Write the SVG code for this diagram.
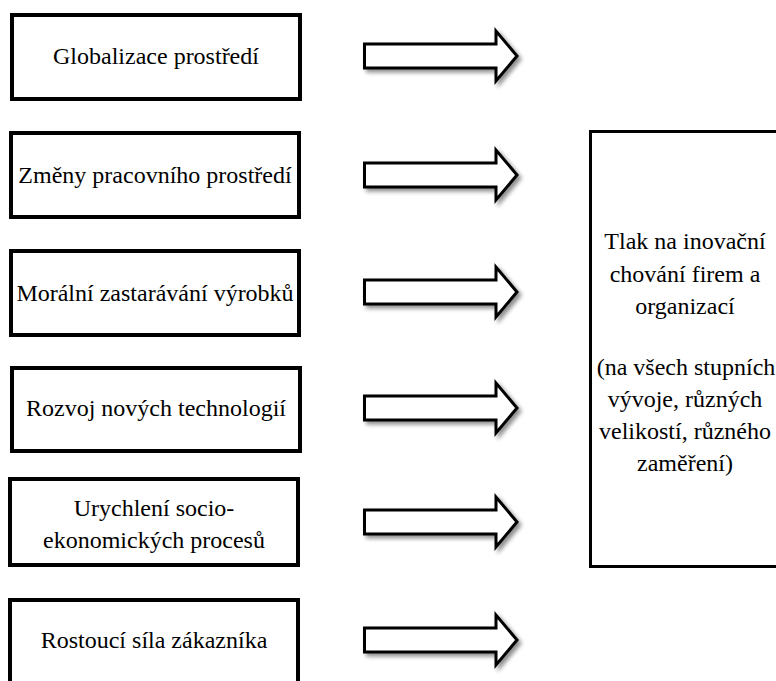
<svg xmlns="http://www.w3.org/2000/svg" width="776" height="681" viewBox="0 0 776 681">
  <style>
    .box { fill: #ffffff; stroke: #000000; stroke-width: 4; }
    .big { fill: #ffffff; stroke: #000000; stroke-width: 3; }
    .lbl { font-family: "Liberation Serif", "Times New Roman", Tinos, "Noto Serif", "DejaVu Serif", serif; font-size: 24px; fill: #000000; text-anchor: middle; }
    .arrow { fill: #ffffff; stroke: #000000; stroke-width: 3; stroke-linejoin: miter; filter: url(#shadow); }
  </style>
  <defs>
    <filter id="shadow" x="-10%" y="-30%" width="130%" height="170%">
      <feGaussianBlur in="SourceAlpha" stdDeviation="2"/>
      <feOffset dx="3" dy="3" result="b"/>
      <feComponentTransfer><feFuncA type="linear" slope="0.45"/></feComponentTransfer>
      <feMerge><feMergeNode/><feMergeNode in="SourceGraphic"/></feMerge>
    </filter>
    <path id="blockArrow" d="M0,-12 H131.5 V-25 L152.5,0 L131.5,25 V12 H0 Z"/>
  </defs>
  <rect width="776" height="681" fill="#ffffff"/>

  <g id="n1">
    <rect class="box" x="12" y="15" width="288" height="84"/>
    <text class="lbl" x="156" y="64">Globalizace prostředí</text>
  </g>
  <g id="n2">
    <rect class="box" x="11" y="133" width="288" height="84"/>
    <text class="lbl" x="155" y="183">Změny pracovního prostředí</text>
  </g>
  <g id="n3">
    <rect class="box" x="11" y="251" width="288" height="84"/>
    <text class="lbl" x="155" y="301">Morální zastarávání výrobků</text>
  </g>
  <g id="n4">
    <rect class="box" x="12" y="368" width="288" height="83"/>
    <text class="lbl" x="156" y="416">Rozvoj nových technologií</text>
  </g>
  <g id="n5">
    <rect class="box" x="10" y="479" width="288" height="86"/>
    <text class="lbl" x="154" y="516">Urychlení socio-</text>
    <text class="lbl" x="154" y="548">ekonomických procesů</text>
  </g>
  <g id="n6">
    <rect class="box" x="10" y="600" width="288" height="100"/>
    <text class="lbl" x="154" y="648">Rostoucí síla zákazníka</text>
  </g>
  <g id="target">
    <rect class="big" x="590.5" y="131.5" width="200" height="435"/>
    <text class="lbl" x="685" y="249">Tlak na inovační</text>
    <text class="lbl" x="685" y="282">chování firem a</text>
    <text class="lbl" x="685" y="314">organizací</text>
    <text class="lbl" x="686" y="375">(na všech stupních</text>
    <text class="lbl" x="685" y="407">vývoje, různých</text>
    <text class="lbl" x="685" y="439">velikostí, různého</text>
    <text class="lbl" x="685" y="471">zaměření)</text>
  </g>

  <g id="connectors">
    <use href="#blockArrow" class="arrow" x="364.5" y="56"/>
    <use href="#blockArrow" class="arrow" x="364.5" y="175"/>
    <use href="#blockArrow" class="arrow" x="364.5" y="292"/>
    <use href="#blockArrow" class="arrow" x="364.5" y="408"/>
    <use href="#blockArrow" class="arrow" x="364.5" y="522"/>
    <use href="#blockArrow" class="arrow" x="364.5" y="640"/>
  </g>
</svg>
